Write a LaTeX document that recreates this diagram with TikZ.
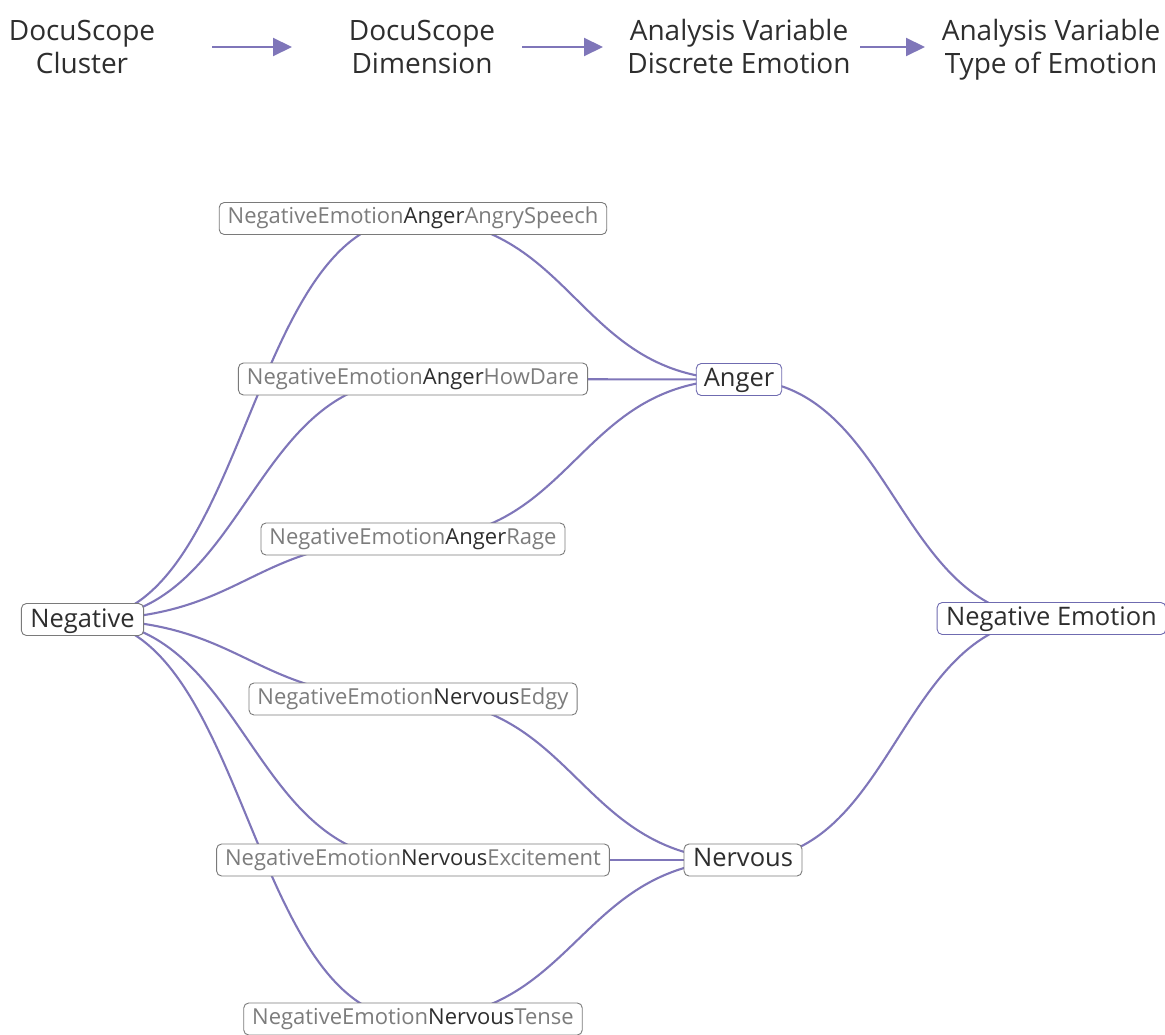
\documentclass[tikz,border=0pt]{standalone}
\usepackage{fontspec}
\setmainfont{Open Sans}
\usetikzlibrary{calc,backgrounds,arrows.meta}
\definecolor{linkc}{HTML}{7F76B9}
\definecolor{ink}{HTML}{2E2E2E}
\definecolor{dim}{HTML}{7C7C7C}
\definecolor{framec}{HTML}{7A7A7A}
\definecolor{accent}{HTML}{6F6BB0}
\newcommand{\dm}[1]{\textcolor{dim}{#1}}
\begin{document}
\begin{tikzpicture}[x=1pt,y=-1pt,
  box/.style={draw=framec, line width=0.9pt, rounded corners=5pt, fill=white,
    inner xsep=8.5pt, inner ysep=0pt, minimum height=32pt, text=ink,
    text height=15.5pt, text depth=5.5pt,
    font=\fontsize{22}{26}\selectfont},
  bigbox/.style={box, font=\fontsize{25.5}{30}\selectfont, inner xsep=9pt,
    text height=18.5pt, text depth=5pt},
  accentbox/.style={bigbox, draw=accent},
  head/.style={align=center, text=ink, inner sep=0pt,
    font=\fontsize{28}{33}\selectfont},
  link/.style={draw=linkc, line width=2.1pt,
    to path={let \p1=(\tikztostart), \p2=(\tikztotarget) in
      .. controls ({(\x1+\x2)/2},\y1) and ({(\x1+\x2)/2},\y2) .. (\tikztotarget)}},
  flow/.style={draw=linkc, line width=2.1pt, -{Triangle[length=19pt,width=18pt]}}
]
\useasboundingbox (0,0) rectangle (1165,1035);

% column headings
\node[head] (h1) at (82,50) {\strut DocuScope\\\strut Cluster};
\node[head] (h2) at (422,50) {\strut DocuScope\\\strut Dimension};
\node[head] (h3) at (739,50) {\strut Analysis Variable\\\strut Discrete Emotion};
\node[head] (h4) at (1051,50) {\strut Analysis Variable\\\strut Type of Emotion};
\coordinate (f1s) at (212,47); \coordinate (f1e) at (292,47);
\coordinate (f2s) at (522,47); \coordinate (f2e) at (603,47);
\coordinate (f3s) at (860,47); \coordinate (f3e) at (925,47);
\draw[flow] (f1s) -- (f1e);
\draw[flow] (f2s) -- (f2e);
\draw[flow] (f3s) -- (f3e);

% cluster
\node[bigbox, text height=20pt, text depth=3.5pt] (neg) at (82.5,619.5) {Negative};

% dimensions
\node[box] (speech) at (413,218.5) {\dm{NegativeEmotion}Anger\dm{AngrySpeech}};
\node[box] (howdare) at (413,379) {\dm{NegativeEmotion}Anger\dm{HowDare}};
\node[box] (rage) at (413,539) {\dm{NegativeEmotion}Anger\dm{Rage}};
\node[box] (edgy) at (413,699) {\dm{NegativeEmotion}Nervous\dm{Edgy}};
\node[box] (excite) at (413,860) {\dm{NegativeEmotion}Nervous\dm{Excitement}};
\node[box] (tense) at (413,1019) {\dm{NegativeEmotion}Nervous\dm{Tense}};

% discrete emotions
\node[accentbox, inner xsep=7.5pt] (anger) at (739,379.5) {Anger};
\node[bigbox] (nervous) at (743,860) {Nervous};

% type of emotion
\node[accentbox] (negemo) at (1051.5,618.5) {Negative Emotion};

% links drawn behind the boxes
\begin{scope}[on background layer]
  \foreach \d in {speech,howdare,rage,edgy,excite,tense}
    \draw[link] (neg.center) to (\d.center);
  \foreach \d in {speech,howdare,rage}
    \draw[link] (\d.center) to (anger.center);
  \foreach \d in {edgy,excite,tense}
    \draw[link] (\d.center) to (nervous.center);
  \draw[link] (anger.center) to (negemo.center);
  \draw[link] (nervous.center) to (negemo.center);
\end{scope}
\end{tikzpicture}
\end{document}
